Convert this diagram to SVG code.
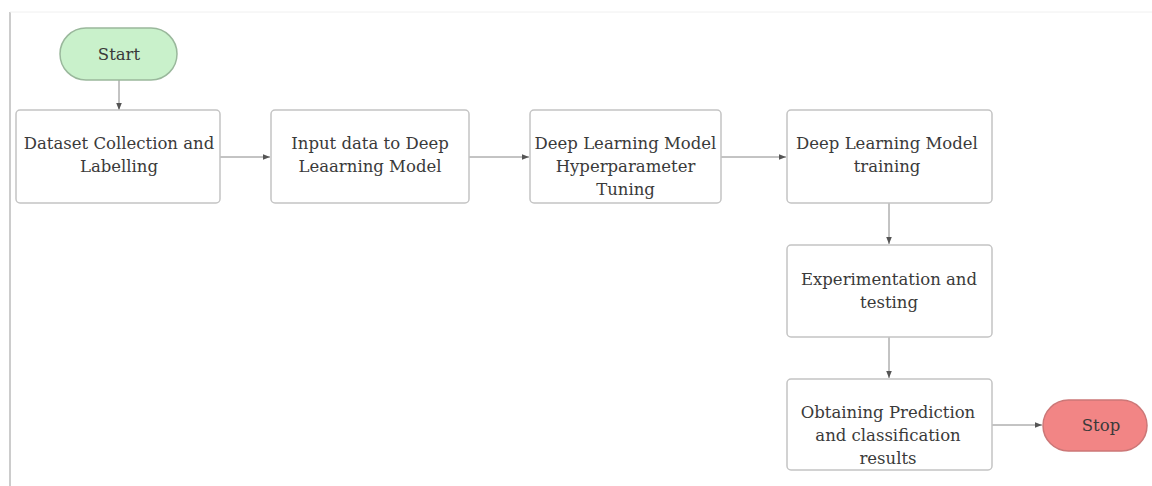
<svg xmlns="http://www.w3.org/2000/svg" width="1152" height="486" viewBox="0 0 1152 486">
<defs>
<marker id="ah" viewBox="0 0 10 10" refX="10" refY="5" markerWidth="7" markerHeight="7" orient="auto" markerUnits="userSpaceOnUse"><path d="M0,1 L10,5 L0,9 z" fill="#555"/></marker>
<style>
.box{fill:#fff;stroke:#c4c4c4;stroke-width:1.5}
.t{font-family:"DejaVu Serif",serif;font-size:16.5px;fill:#3a3a3a;text-anchor:middle}
.c{stroke:#888;stroke-width:1;fill:none;marker-end:url(#ah)}
</style>
</defs>
<rect width="1152" height="486" fill="#fff"/>
<line x1="10" y1="12" x2="10" y2="486" stroke="#bbb" stroke-width="1.5"/>
<line x1="10" y1="12" x2="1152" y2="12" stroke="#f0f0f0" stroke-width="1"/>
<g id="connectors">
<line class="c" x1="119" y1="80" x2="119" y2="110"/>
<line class="c" x1="220" y1="157" x2="270" y2="157"/>
<line class="c" x1="469" y1="157" x2="529" y2="157"/>
<line class="c" x1="721" y1="157" x2="786" y2="157"/>
<line class="c" x1="889" y1="203" x2="889" y2="244"/>
<line class="c" x1="889" y1="337" x2="889" y2="378"/>
<line class="c" x1="992" y1="425" x2="1042" y2="425"/>
</g>
<g id="start"><rect x="60" y="28" width="117" height="52" rx="26" fill="#c9f1cb" stroke="#9ab89c" stroke-width="1.5"/><text class="t" x="119" y="60">Start</text></g>
<g id="n1"><rect class="box" x="16" y="110" width="204" height="93" rx="4"/><text class="t" x="119" y="149">Dataset Collection and</text><text class="t" x="119" y="172">Labelling</text></g>
<g id="n2"><rect class="box" x="271" y="110" width="198" height="93" rx="4"/><text class="t" x="370" y="149">Input data to Deep</text><text class="t" x="370" y="172">Leaarning Model</text></g>
<g id="n3"><rect class="box" x="530" y="110" width="191" height="93" rx="4"/><text class="t" x="625.5" y="149">Deep Learning Model</text><text class="t" x="625.5" y="172">Hyperparameter</text><text class="t" x="625.5" y="195">Tuning</text></g>
<g id="n4"><rect class="box" x="787" y="110" width="205" height="93" rx="4"/><text class="t" x="887" y="149">Deep Learning Model</text><text class="t" x="887" y="172">training</text></g>
<g id="n5"><rect class="box" x="787" y="245" width="205" height="92" rx="4"/><text class="t" x="889" y="285">Experimentation and</text><text class="t" x="889" y="308">testing</text></g>
<g id="n6"><rect class="box" x="787" y="379" width="205" height="91" rx="4"/><text class="t" x="888" y="418">Obtaining Prediction</text><text class="t" x="888" y="441">and classification</text><text class="t" x="888" y="464">results</text></g>
<g id="stop"><rect x="1043" y="400" width="104" height="51" rx="25.5" fill="#f28585" stroke="#c77" stroke-width="1.5"/><text class="t" x="1101" y="431">Stop</text></g>
</svg>
